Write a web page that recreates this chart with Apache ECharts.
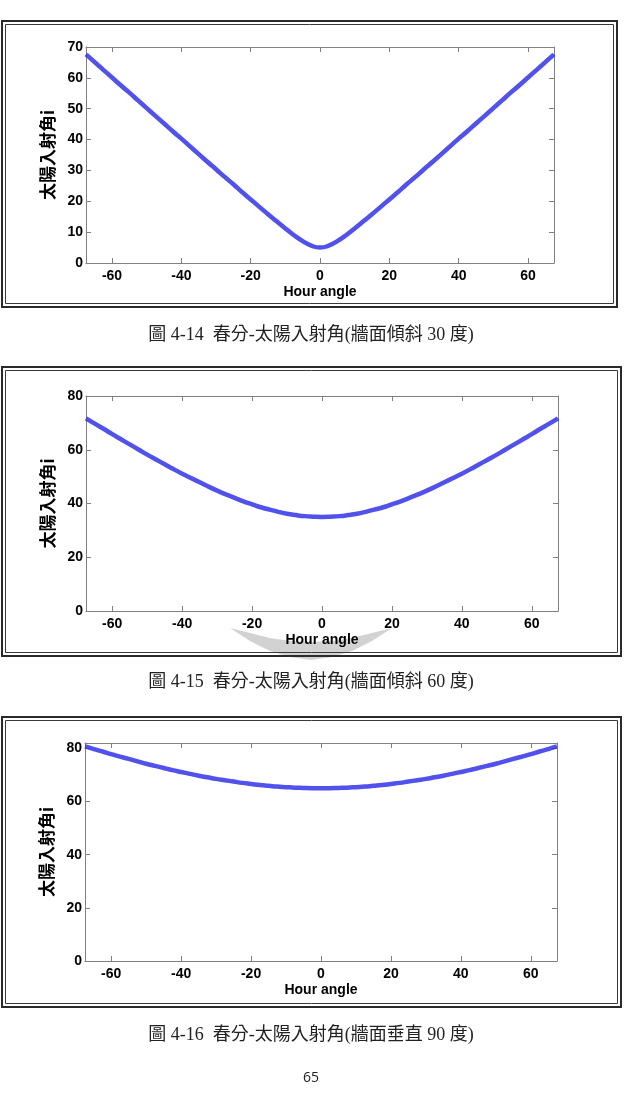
<!DOCTYPE html>
<html>
<head>
<meta charset="utf-8">
<script src="https://cdn.jsdelivr.net/npm/echarts@6/dist/echarts.min.js"></script>
<style>
html, body { margin: 0; padding: 0; background: #fff; }
#chart { width: 628px; height: 1096px; }
</style>
</head>
<body>
<div id="chart"></div>
<script>
// hour angle (deg) and incidence angle i (deg)
const hourAngle = [
  -67.5, -65, -62.5, -60, -57.5, -55, -52.5, -50, -47.5, -45, -42.5, -40, -37.5, -35,
  -32.5, -30, -27.5, -25, -22.5, -20, -17.5, -15, -12.5, -10, -7.5, -5, -2.5, 0,
  2.5, 5, 7.5, 10, 12.5, 15, 17.5, 20, 22.5, 25, 27.5, 30, 32.5, 35, 37.5, 40,
  42.5, 45, 47.5, 50, 52.5, 55, 57.5, 60, 62.5, 65, 67.5
]
const incidence30 = [
  67.6, 65.1, 62.6, 60.1, 57.6, 55.2, 52.7, 50.2, 47.7, 45.2, 42.7, 40.3, 37.8, 35.3,
  32.8, 30.4, 27.9, 25.5, 23.0, 20.6, 18.2, 15.8, 13.5, 11.2, 9.0, 7.1, 5.6, 5.0,
  5.6, 7.1, 9.0, 11.2, 13.5, 15.8, 18.2, 20.6, 23.0, 25.5, 27.9, 30.4, 32.8, 35.3,
  37.8, 40.3, 42.7, 45.2, 47.7, 50.2, 52.7, 55.2, 57.6, 60.1, 62.6, 65.1, 67.6
]
const incidence60 = [
  71.7, 69.7, 67.8, 65.8, 63.9, 62.0, 60.1, 58.2, 56.4, 54.6, 52.8, 51.1, 49.5, 47.9,
  46.3, 44.8, 43.4, 42.1, 40.8, 39.7, 38.6, 37.7, 36.9, 36.2, 35.7, 35.3, 35.1, 35.0,
  35.1, 35.3, 35.7, 36.2, 36.9, 37.7, 38.6, 39.7, 40.8, 42.1, 43.4, 44.8, 46.3, 47.9,
  49.5, 51.1, 52.8, 54.6, 56.4, 58.2, 60.1, 62.0, 63.9, 65.8, 67.8, 69.7, 71.7
]
const incidence90 = [
  80.7, 79.7, 78.8, 77.8, 76.9, 76.0, 75.1, 74.2, 73.4, 72.6, 71.8, 71.1, 70.4, 69.7,
  69.1, 68.5, 68.0, 67.5, 67.0, 66.6, 66.2, 65.9, 65.6, 65.4, 65.2, 65.1, 65.0, 65.0,
  65.0, 65.1, 65.2, 65.4, 65.6, 65.9, 66.2, 66.6, 67.0, 67.5, 68.0, 68.5, 69.1, 69.7,
  70.4, 71.1, 71.8, 72.6, 73.4, 74.2, 75.1, 76.0, 76.9, 77.8, 78.8, 79.7, 80.7
]
const xTicks = [-60, -40, -20, 0, 20, 40, 60]
const yTicks30 = [0, 10, 20, 30, 40, 50, 60, 70]
const yTicks = [0, 20, 40, 60, 80]
const captions = [
  '圖 4-14  春分-太陽入射角(牆面傾斜 30 度)',
  '圖 4-15  春分-太陽入射角(牆面傾斜 60 度)',
  '圖 4-16  春分-太陽入射角(牆面垂直 90 度)'
]
const xName = 'Hour angle'
const yName = '太陽入射角i'
const pageNo = '65'

// layout of the three panels
const panels = [
  { grid: { left: 86, top: 47, width: 468, height: 216 }, yMax: 70, yTickList: yTicks30, values: incidence30, frame: [2, 21, 615, 286], captionY: 335 },
  { grid: { left: 86, top: 396, width: 472, height: 215 }, yMax: 80, yTickList: yTicks, values: incidence60, frame: [2, 367, 619, 289], captionY: 682 },
  { grid: { left: 85, top: 743, width: 472, height: 218 }, yMax: 82, yTickList: yTicks, values: incidence90, frame: [2, 717, 619, 290], captionY: 1035 }
]

const axisColor = '#808080'
const labelFont = {
  color: '#000',
  fontFamily: "'Liberation Sans', Arial, sans-serif",
  fontWeight: 'bold',
  fontSize: 14
}
const xMin = -67.5
const xMax = 67.5

const xAxis = []
const yAxis = []
const series = []
const graphic = []

panels.forEach((p, i) => {
  // bottom axis with labels
  xAxis.push({
    type: 'value', gridIndex: i, min: xMin, max: xMax, position: 'bottom', z: 3,
    name: xName, nameLocation: 'middle', nameGap: 22,
    nameTextStyle: { ...labelFont },
    axisLine: { show: true, onZero: false, lineStyle: { color: axisColor } },
    axisTick: { show: true, inside: true, length: 5, customValues: xTicks, lineStyle: { color: axisColor } },
    axisLabel: { ...labelFont, margin: 6, customValues: xTicks },
    splitLine: { show: false }
  })
  // top axis, ticks only
  xAxis.push({
    type: 'value', gridIndex: i, min: xMin, max: xMax, position: 'top',
    axisLine: { show: true, onZero: false, lineStyle: { color: axisColor } },
    axisTick: { show: true, inside: true, length: 5, customValues: xTicks, lineStyle: { color: axisColor } },
    axisLabel: { show: false },
    splitLine: { show: false }
  })
  yAxis.push({
    type: 'value', gridIndex: i, min: 0, max: p.yMax, position: 'left',
    name: yName, nameLocation: 'middle', nameGap: 29, nameRotate: 90,
    nameTextStyle: { color: '#000', fontFamily: "'Noto Sans CJK TC', sans-serif", fontWeight: 'bold', fontSize: 17 },
    axisLine: { show: true, onZero: false, lineStyle: { color: axisColor } },
    axisTick: { show: true, inside: true, length: 5, customValues: p.yTickList, lineStyle: { color: axisColor } },
    axisLabel: { ...labelFont, margin: 3, customValues: p.yTickList },
    splitLine: { show: false }
  })
  yAxis.push({
    type: 'value', gridIndex: i, min: 0, max: p.yMax, position: 'right',
    axisLine: { show: true, onZero: false, lineStyle: { color: axisColor } },
    axisTick: { show: true, inside: true, length: 5, customValues: p.yTickList, lineStyle: { color: axisColor } },
    axisLabel: { show: false },
    splitLine: { show: false }
  })
  series.push({
    type: 'line',
    xAxisIndex: i * 2,
    yAxisIndex: i * 2,
    data: hourAngle.map((h, k) => [h, p.values[k]]),
    smooth: true,
    showSymbol: false,
    silent: true,
    lineStyle: { color: 'rgba(50,50,235,0.85)', width: 4.5 }
  })
  // double border around each figure
  const [fx, fy, fw, fh] = p.frame
  graphic.push({
    type: 'rect', shape: { x: fx, y: fy, width: fw, height: fh },
    style: { fill: null, stroke: '#2a2a2a', lineWidth: 2 }
  })
  graphic.push({
    type: 'rect', shape: { x: fx + 3.5, y: fy + 3.5, width: fw - 7, height: fh - 7 },
    style: { fill: null, stroke: '#3a3a3a', lineWidth: 1 }
  })
  graphic.push({
    type: 'text', x: 311, y: p.captionY,
    style: {
      text: captions[i], fill: '#222',
      font: "18px 'Liberation Serif', 'Noto Sans CJK TC', serif",
      textAlign: 'center', textVerticalAlign: 'middle'
    }
  })
})

// faint watermark arc behind the second figure
graphic.push({
  type: 'polygon', z: -1,
  shape: {
    points: [
      [230, 628], [250, 641], [270, 651], [290, 657], [311, 660], [332, 657], [352, 651], [372, 641], [392, 628],
      [372, 633], [352, 638], [332, 641], [311, 642], [290, 641], [270, 638], [250, 633]
    ]
  },
  style: { fill: 'rgba(165,165,165,0.5)' }
})
graphic.push({
  type: 'text', x: 311, y: 1078,
  style: { text: pageNo, fill: '#222', font: "14px 'Open Sans', sans-serif", textAlign: 'center', textVerticalAlign: 'middle' }
})

const myChart = echarts.init(document.getElementById('chart'))
const option = {
  backgroundColor: '#fff',
  animation: false,
  grid: panels.map(p => ({ ...p.grid, containLabel: false })),
  xAxis,
  yAxis,
  series,
  graphic
}
myChart.setOption(option)
</script>
</body>
</html>
